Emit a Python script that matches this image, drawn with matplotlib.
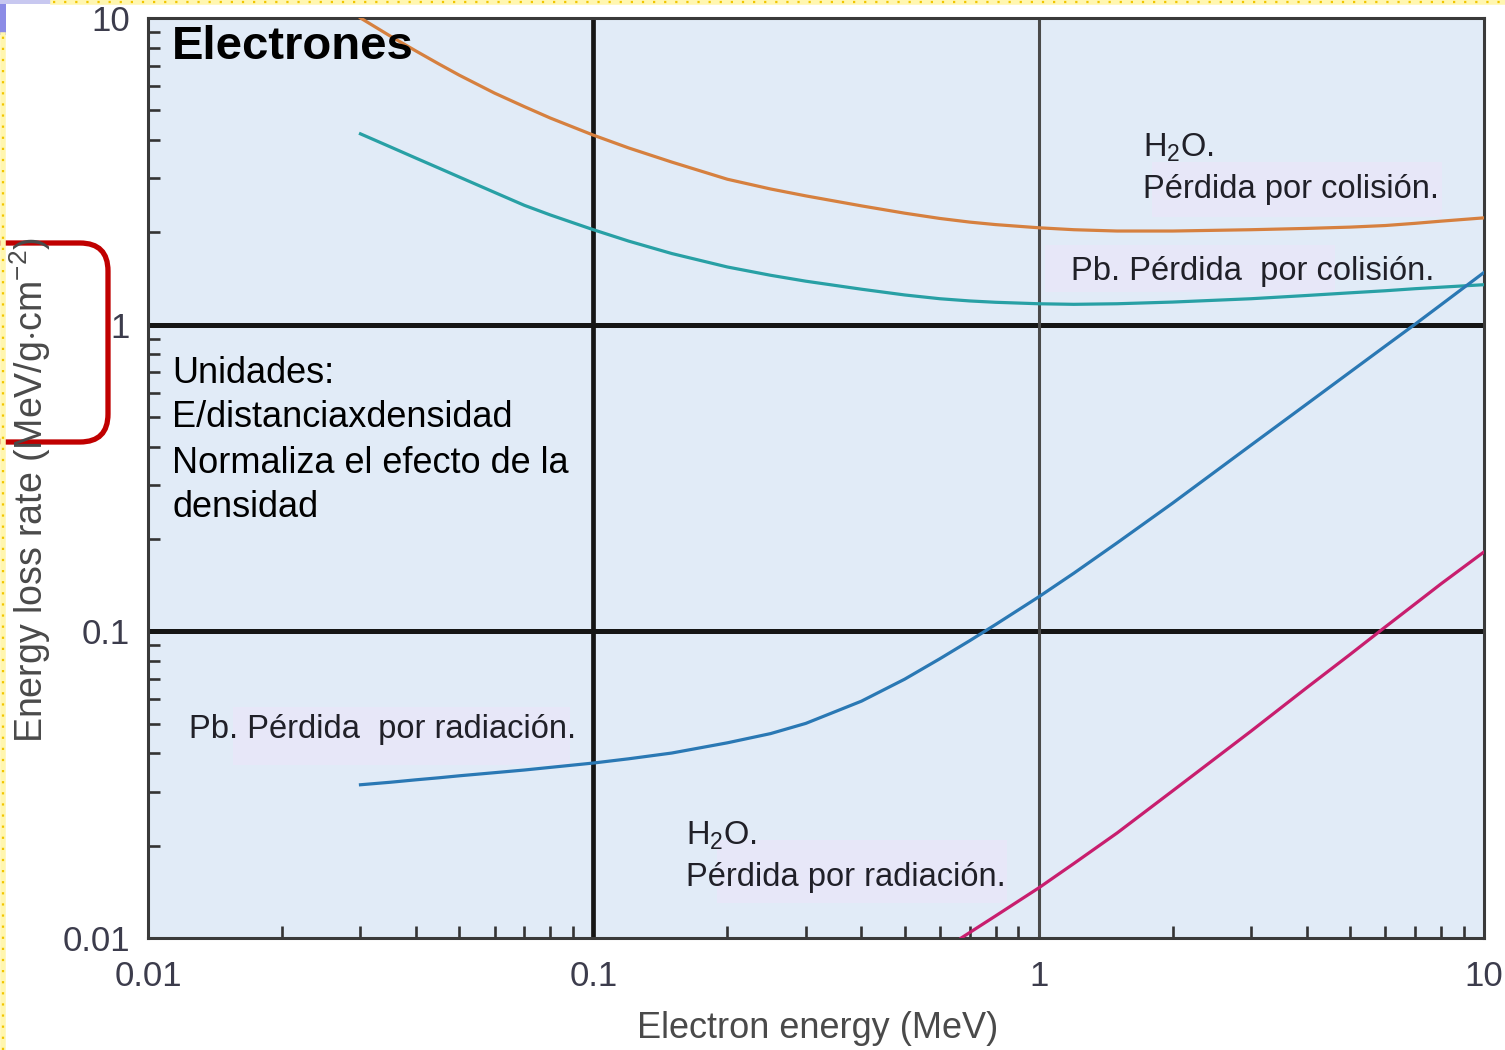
import matplotlib
matplotlib.use("Agg")
import matplotlib.pyplot as plt
from matplotlib.patches import FancyBboxPatch, Rectangle
from matplotlib.lines import Line2D
from matplotlib.ticker import FixedLocator, FixedFormatter, LogLocator, NullFormatter

plt.rcParams['font.family'] = ['Liberation Sans', 'DejaVu Sans']
plt.rcParams['mathtext.fontset'] = 'custom'
plt.rcParams['mathtext.rm'] = 'Liberation Sans'
plt.rcParams['mathtext.it'] = 'Liberation Sans:italic'

# electron energy (MeV) and energy loss rate (MeV cm2/g)
energy = [0.03, 0.035, 0.04, 0.045, 0.05, 0.06, 0.07, 0.08, 0.1, 0.12,
          0.15, 0.2, 0.25, 0.3, 0.4, 0.5, 0.6, 0.7, 0.8, 1,
          1.2, 1.5, 2, 3, 4, 5, 6, 7, 8, 10]
h2o_collision = [10.0, 8.73, 7.80, 7.08, 6.51, 5.69, 5.14, 4.72, 4.15, 3.77,
                 3.39, 2.98, 2.77, 2.63, 2.44, 2.31, 2.22, 2.16, 2.12, 2.07,
                 2.04, 2.02, 2.02, 2.04, 2.06, 2.08, 2.105, 2.14, 2.175, 2.23]
pb_collision = [4.19, 3.80, 3.49, 3.24, 3.03, 2.70, 2.45, 2.28, 2.04, 1.873,
                1.706, 1.542, 1.449, 1.386, 1.305, 1.25, 1.215, 1.195, 1.183, 1.17,
                1.165, 1.17, 1.185, 1.215, 1.245, 1.27, 1.29, 1.31, 1.325, 1.35]
pb_radiation = [0.0316, 0.0322, 0.0328, 0.0333, 0.0338, 0.0346, 0.0353, 0.0360, 0.0372, 0.0384,
                0.0401, 0.0433, 0.0464, 0.0501, 0.0592, 0.0698, 0.0814, 0.0932, 0.1052, 0.1295,
                0.1548, 0.1943, 0.262, 0.405, 0.551, 0.700, 0.851, 1.003, 1.16, 1.48]
energy_h2o_rad = [0.67, 0.8, 1, 1.2, 1.5, 2, 3, 4, 5, 6, 7, 8, 10]
h2o_radiation = [0.0100, 0.0118, 0.01456, 0.0175, 0.0220, 0.0302, 0.0473, 0.0655,
                 0.0840, 0.1033, 0.1228, 0.1427, 0.1815]

decades = [0.01, 0.1, 1, 10]
decade_labels = ["0.01", "0.1", "1", "10"]

fig = plt.figure(figsize=(15.05, 10.5), dpi=100)
ax = fig.add_axes([148 / 1505, 1 - 938 / 1050, 1336 / 1505, 920 / 1050])
ax.set_facecolor('#e1ebf7')

ax.set_xscale('log')
ax.set_yscale('log')
ax.set_xlim(0.01, 10)
ax.set_ylim(0.01, 10)

for axis in (ax.xaxis, ax.yaxis):
    axis.set_major_locator(FixedLocator(decades))
    axis.set_major_formatter(FixedFormatter(decade_labels))
    axis.set_minor_locator(LogLocator(base=10, subs=range(2, 10)))
    axis.set_minor_formatter(NullFormatter())

ax.tick_params(which='minor', direction='in', length=8.5, width=1.9, color='#333333',
               top=False, right=False)
ax.tick_params(which='major', length=0, labelsize=25, labelcolor='#3c3c4c')
ax.tick_params(axis='x', which='major', pad=16)
ax.tick_params(axis='y', which='major', pad=13)

for sp in ax.spines.values():
    sp.set_color('#3a3a3a')
    sp.set_linewidth(2.2)

# decade grid
ax.axhline(1, color='#151515', lw=3.6, zorder=2)
ax.axhline(0.1, color='#151515', lw=3.6, zorder=2)
ax.axvline(0.1, color='#151515', lw=3.4, zorder=2)
ax.axvline(1, color='#4a4a4a', lw=2.2, zorder=2)

# label backgrounds
label_bg = '#e7e7f8'
for x0, y0, w, h in [(0.7515, 0.7837, 0.2171, 0.0598),
                     (0.6714, 0.7022, 0.2171, 0.0511),
                     (0.0636, 0.1880, 0.2522, 0.0630),
                     (0.4259, 0.0380, 0.2171, 0.0685)]:
    ax.add_patch(Rectangle((x0, y0), w, h, transform=ax.transAxes,
                           facecolor=label_bg, edgecolor='none', zorder=1))

ax.plot(energy, h2o_collision, color='#d6803f', lw=2.3, zorder=3)
ax.plot(energy, pb_collision, color='#28a0a5', lw=2.3, zorder=3)
ax.plot(energy, pb_radiation, color='#2a78b4', lw=2.3, zorder=3)
ax.plot(energy_h2o_rad, h2o_radiation, color='#c81e6e', lw=2.3, zorder=3)

ax.text(0.018, 0.9554, 'Electrones', transform=ax.transAxes, fontsize=34,
        fontweight='bold', va='baseline', color='black', zorder=6)

for y, line in zip([0.6033, 0.5554, 0.5054, 0.4576],
                   ['Unidades:', 'E/distanciaxdensidad',
                    'Normaliza el efecto de la', 'densidad']):
    ax.text(0.018, y, line, transform=ax.transAxes, fontsize=26,
            va='baseline', color='black', zorder=6)

lab = dict(transform=ax.transAxes, fontsize=23.5, va='baseline', color='#202028', zorder=6)
ax.text(0.7448, 0.8489, r'H$_\mathrm{2}$O.', **lab)
ax.text(0.7448, 0.8043, 'Pérdida por colisión.', **lab)
ax.text(0.6909, 0.7152, 'Pb. Pérdida  por colisión.', **lab)
ax.text(0.0307, 0.2174, 'Pb. Pérdida  por radiación.', **lab)
ax.text(0.4027, 0.1011, r'H$_\mathrm{2}$O.', **lab)
ax.text(0.4027, 0.0565, 'Pérdida por radiación.', **lab)

fig.text(818 / 1505, 1 - 1028 / 1050, 'Electron energy (MeV)', fontsize=26,
         color='#4a4a4a', ha='center', va='center')
fig.text(30 / 1505, 1 - 490 / 1050, r'Energy loss rate (MeV/g$\cdot$cm$^{-2}$)',
         fontsize=27, color='#4a4a4a', ha='center', va='center', rotation=90)

# highlight around the unit
fig.add_artist(FancyBboxPatch((-0.25, 6.08), 1.33, 1.99,
                              boxstyle='round,pad=0,rounding_size=0.28',
                              transform=fig.dpi_scale_trans, fill=False,
                              edgecolor='#c00000', lw=3.8, clip_on=False))

# slide selection border
fig.add_artist(Line2D([0.002, 0.002], [0, 0.967], transform=fig.transFigure,
                      color='#fff6b0', lw=4))
fig.add_artist(Line2D([0.002, 0.002], [0, 0.967], transform=fig.transFigure,
                      color='#f2c600', lw=1.6, ls=(0, (1, 4))))
fig.add_artist(Line2D([0.035, 1], [0.998, 0.998], transform=fig.transFigure,
                      color='#fff6b0', lw=4))
fig.add_artist(Line2D([0.035, 1], [0.998, 0.998], transform=fig.transFigure,
                      color='#f2c600', lw=1.6, ls=(0, (1, 4))))
fig.add_artist(Rectangle((0, 1 - 35 / 1050), 6 / 1505, 35 / 1050, transform=fig.transFigure,
                         facecolor='#8c8ce6', edgecolor='none'))
fig.add_artist(Rectangle((0, 1 - 4 / 1050), 53 / 1505, 4 / 1050, transform=fig.transFigure,
                         facecolor='#c8c8f0', edgecolor='none'))

fig.savefig('out.png', dpi=100)
